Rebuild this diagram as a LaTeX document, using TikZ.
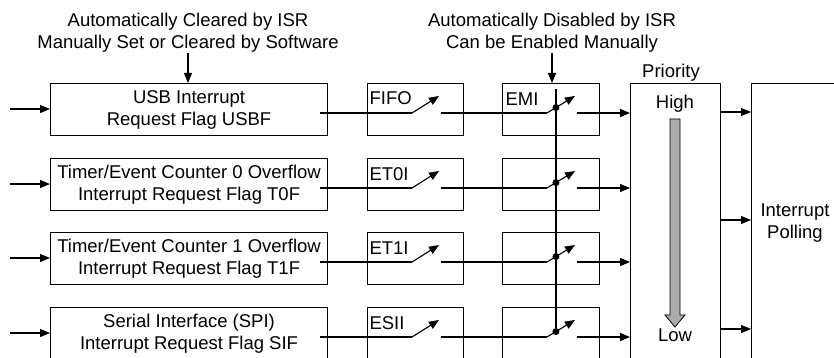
\documentclass[tikz,border=0pt]{standalone}
\usepackage{fontspec}
\setmainfont{Liberation Sans}
\usetikzlibrary{arrows.meta, positioning, calc}

\begin{document}
\begin{tikzpicture}[x=1pt, y=-1pt, line width=1.1pt,
  every node/.style={font=\fontsize{18.5}{22}\selectfont, inner sep=0pt},
  box/.style={draw, rectangle, anchor=north west, minimum height=52pt, align=center},
  flagbox/.style={box, minimum width=277pt},
  enbox/.style={box, minimum width=96pt},
  arr/.style={-{Triangle[length=10pt,width=8pt]}},
  dot/.style={circle, fill, minimum size=7pt}]
\useasboundingbox (0,0) rectangle (834,358);

% notes on top
\node[align=center] (clrnote) at (188,33) {Automatically Cleared by ISR\\Manually Set or Cleared by Software};
\node[align=center] (disnote) at (552,33) {Automatically Disabled by ISR\\Can be Enabled Manually};

% priority and polling
\node[draw, anchor=north west, minimum width=90pt, minimum height=300pt] (prio) at (630,83) {};
\node[anchor=base] (priolbl) at (671,77.3) {Priority};
\node[anchor=base] (high) at (675,108.3) {High};
\node[anchor=base] (low) at (675,341.7) {Low};
\filldraw[fill=gray!65, line width=0.8pt] (670,119) -- (680,119) -- (680,315) -- (685,315)
  -- (675,327) -- (665,315) -- (670,315) -- cycle;
\node[draw, anchor=north west, minimum width=120pt, minimum height=300pt] (poll) at (751,83) {};
\node[align=center] (polltxt) at (795,223) {Interrupt\\Polling};

% one row per interrupt source
\foreach \i/\top/\txt/\en in {1/83/{USB Interrupt\\Request Flag USBF}/FIFO,
    2/158/{Timer/Event Counter 0 Overflow\\Interrupt Request Flag T0F}/ET0I,
    3/232/{Timer/Event Counter 1 Overflow\\Interrupt Request Flag T1F}/ET1I,
    4/307/{Serial Interface (SPI)\\Interrupt Request Flag SIF}/ESII} {
  \pgfmathsetmacro\ln{\top+30}
  \node[flagbox] (flag\i) at (50,\top) {\txt};
  \node[enbox] (en\i) at (367,\top) {};
  \node[enbox, minimum width=97pt] (emi\i) at (502,\top) {};
  \node[anchor=base west] (enlbl\i) at ([shift={(2pt,-22pt)}]en\i.north west) {\en};
  \coordinate (in\i) at (10,\top+26);
  \coordinate (fo\i) at (320,\ln);
  \coordinate (sa\i) at (412,\ln);
  \coordinate (ta\i) at (439,\ln-17);
  \coordinate (oa\i) at (441,\ln);
  \coordinate (sb\i) at (547,\ln);
  \coordinate (tb\i) at (575,\ln-17);
  \coordinate (ob\i) at (577,\ln);
  \draw[arr] (in\i) -- (in\i -| flag\i.west);
  \draw (fo\i) -- (sa\i);
  \draw[arr] (sa\i) -- (ta\i);
  \draw (oa\i) -- (sb\i);
  \draw[arr] (sb\i) -- (tb\i);
  \node[dot] (dot\i) at ($(sb\i)!0.32!(tb\i)$) {};
  \draw[arr] (ob\i) -- (ob\i -| prio.west);
}
\node[anchor=base west] (emilbl) at ([shift={(3pt,-22.5pt)}]emi1.north west) {EMI};

% global enable linkage
\coordinate (link) at (dot1 |- 0,89);
\draw (link) -- (dot4);

\draw[arr] (clrnote.south) -- (clrnote.south |- flag1.north);
\draw[arr] (disnote.south) -- (disnote.south |- emi1.north);

\foreach \y in {112,220,329}
  \draw[arr] (prio.east |- 0,\y) -- (poll.west |- 0,\y);
\end{tikzpicture}
\end{document}
